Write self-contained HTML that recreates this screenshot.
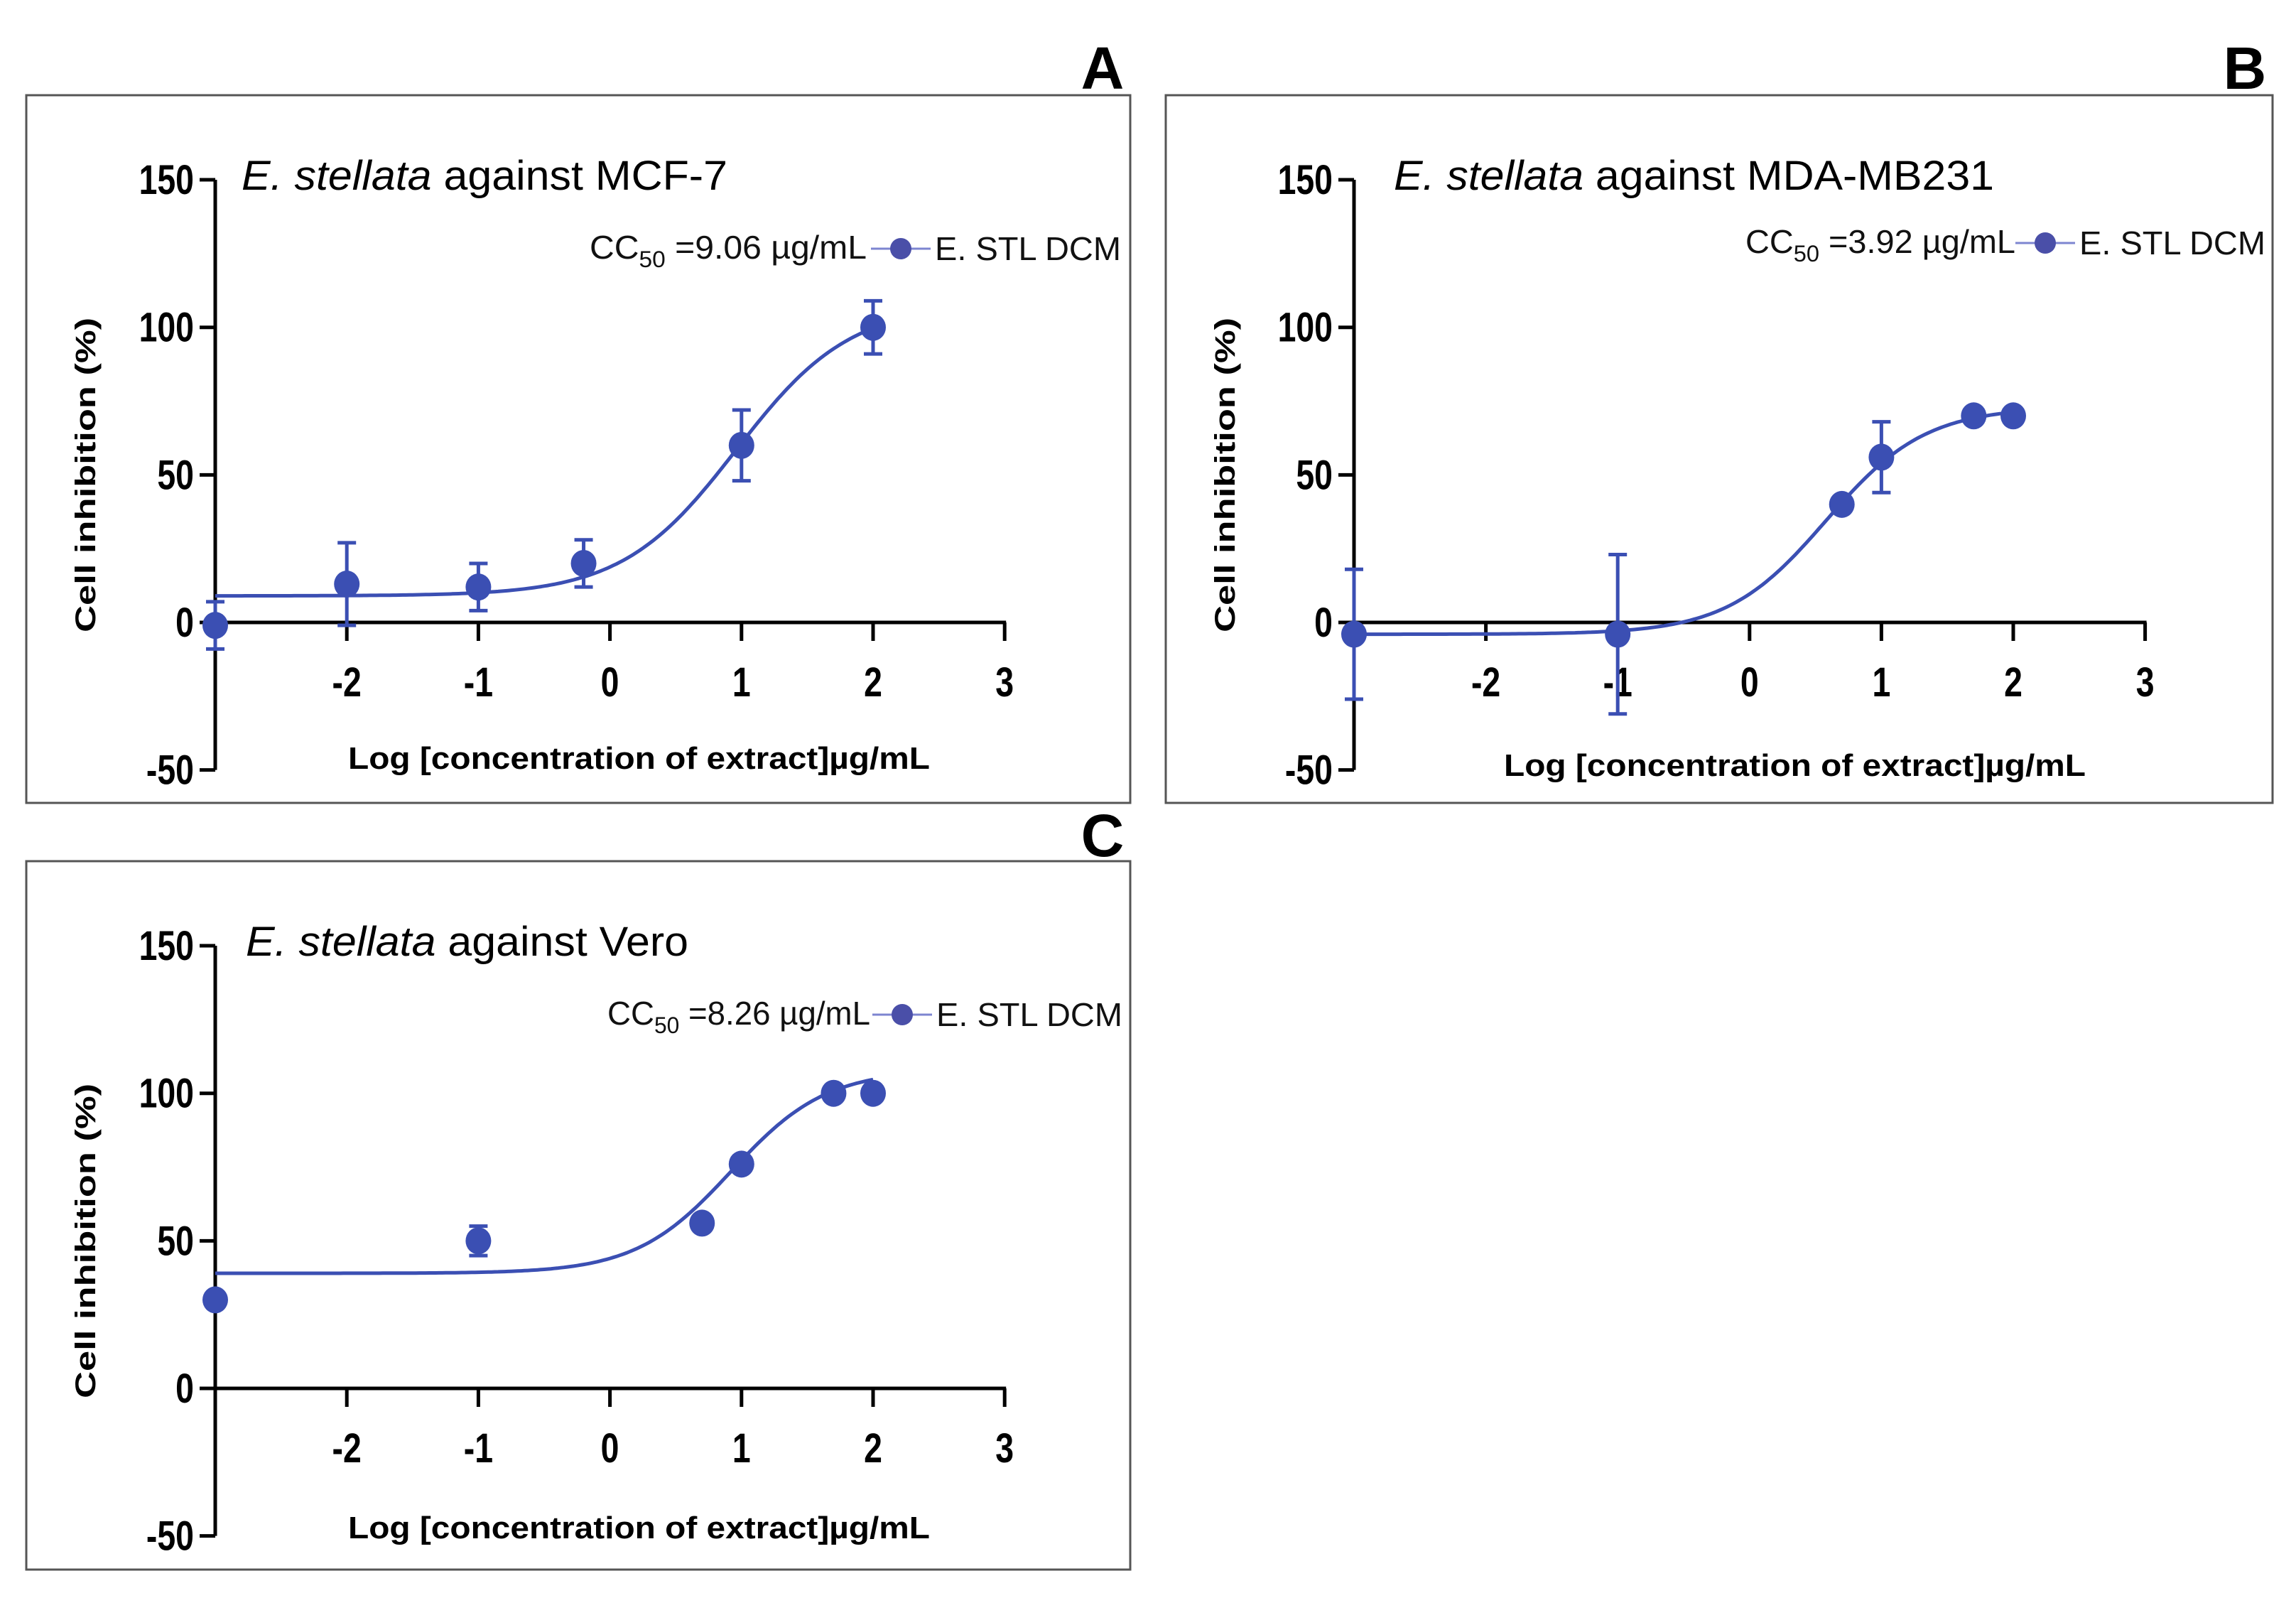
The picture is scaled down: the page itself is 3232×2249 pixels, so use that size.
<!DOCTYPE html>
<html><head><meta charset="utf-8"><style>
html,body{margin:0;padding:0;background:#fff}
svg{display:block}
text{font-family:"Liberation Sans",Arial,sans-serif}
</style></head><body>
<svg id="fig" width="3232" height="2249" viewBox="0 0 3232 2249" xmlns="http://www.w3.org/2000/svg"></svg>
<script>
// Panel A data (MCF-7)
const xA = [-3, -2, -1, -0.2, 1, 2];
const yA = [-1, 13, 12, 20, 60, 100];
const eA = [8, 14, 8, 8, 12, 9];
const fitA = [9, 108, 0.96, 1.0]; // bottom, top, logEC50, hill
// Panel B data (MDA-MB231)
const xB = [-3, -1, 0.7, 1, 1.7, 2];
const yB = [-4, -4, 40, 56, 70, 70];
const eB = [22, 27, 0, 12, 0, 0];
const fitB = [-4, 73, 0.58, 1.15];
// Panel C data (Vero)
const xC = [-3, -1, 0.7, 1, 1.7, 2];
const yC = [30, 50, 56, 76, 100, 100];
const eC = [0, 5, 0, 0, 0, 0];
const fitC = [39, 108, 0.92, 1.2];
const xTicks = [-2, -1, 0, 1, 2, 3];
const yTicks = [150, 100, 50, 0, -50];

const NS = "http://www.w3.org/2000/svg";
const svg = document.getElementById('fig');
const BLUE = "#3b4fb3";
function mk(tag, attrs, parent, txt) {
  const e = document.createElementNS(NS, tag);
  for (const k in attrs) e.setAttribute(k, attrs[k]);
  if (txt !== undefined) e.textContent = txt;
  (parent || svg).appendChild(e);
  return e;
}

function panel(cfg) {
  const g = mk('g', {});
  
  
  const box = mk('rect', {x: cfg.bx, y: cfg.by, width: cfg.bw, height: cfg.bh, fill: 'none', stroke: '#555', 'stroke-width': 3}, g);
  
  
  const lab = mk('text', {x: cfg.lx, y: cfg.ly, 'font-size': 84, 'font-weight': 'bold', 'text-anchor': 'middle'}, g, cfg.letter);
  
  
  const X0 = cfg.ax, Y0 = cfg.y0;
  const ux = cfg.ux, uy = cfg.uy;
  const sx = v => X0 + (v + 3) * ux;
  const sy = v => Y0 - v * uy;
  const ya = mk('line', {x1: X0, y1: sy(150), x2: X0, y2: sy(-50), stroke: '#000', 'stroke-width': 5}, g);
  
  
  yTicks.forEach(t => {
    const tk = mk('line', {x1: X0 - 22, y1: sy(t), x2: X0, y2: sy(t), stroke: '#000', 'stroke-width': 5}, g);
    
    
    const ax = X0 - 30;
    const tl = mk('text', {x: ax, y: sy(t) + 20, 'font-size': 58, 'font-weight': 'bold', 'text-anchor': 'end', transform: `translate(${ax},0) scale(0.8,1) translate(${-ax},0)`}, g, String(t));
    
    
  });
  const xa = mk('line', {x1: X0, y1: Y0, x2: sx(3) + 2, y2: Y0, stroke: '#000', 'stroke-width': 5}, g);
  
  
  xTicks.forEach(t => {
    const tk = mk('line', {x1: sx(t), y1: Y0, x2: sx(t), y2: Y0 + 26, stroke: '#000', 'stroke-width': 5}, g);
    
    
    const px = sx(t);
    const tl = mk('text', {x: px, y: Y0 + 104, 'font-size': 58, 'font-weight': 'bold', 'text-anchor': 'middle', transform: `translate(${px},0) scale(0.8,1) translate(${-px},0)`}, g, String(t));
    
    
  });
  const xt = mk('text', {x: cfg.xtx, y: cfg.xty, 'font-size': 44, 'font-weight': 'bold', textLength: 819, lengthAdjust: 'spacingAndGlyphs'}, g, 'Log [concentration of extract]µg/mL');
  
  
  const ytx = cfg.ytx, yty = sy(cfg.ytc);
  const yt = mk('text', {x: ytx, y: yty, 'font-size': 40, 'font-weight': 'bold', 'text-anchor': 'middle', textLength: 443, lengthAdjust: 'spacingAndGlyphs', transform: `rotate(-90 ${ytx} ${yty})`}, g, 'Cell inhibition (%)');
  
  
  const tt = mk('text', {x: cfg.tx, y: cfg.ty, 'font-size': 58, textLength: cfg.tw, lengthAdjust: 'spacingAndGlyphs'}, g);
  
  
  mk('tspan', {'font-style': 'italic'}, tt, 'E. stellata');
  mk('tspan', {}, tt, ' against ' + cfg.cell);
  const lg = mk('g', {}, g);
  
  
  const lt = mk('text', {x: cfg.lgx, y: cfg.lgy, 'font-size': 46, fill: '#111', textLength: cfg.lgw, lengthAdjust: 'spacingAndGlyphs'}, lg);
  mk('tspan', {}, lt, 'CC');
  mk('tspan', {'font-size': 32, dy: 12}, lt, '50');
  mk('tspan', {dy: -12}, lt, ' =' + cfg.cc + ' µg/mL');
  mk('line', {x1: cfg.lmx - 42, y1: cfg.lgy - 14, x2: cfg.lmx + 42, y2: cfg.lgy - 14, stroke: '#7d85d0', 'stroke-width': 3}, lg);
  mk('circle', {cx: cfg.lmx, cy: cfg.lgy - 14, r: 15, fill: '#4a4fa8'}, lg);
  mk('text', {x: cfg.lmx + 48, y: cfg.lgy + 2, 'font-size': 46, fill: '#111', textLength: 262, lengthAdjust: 'spacingAndGlyphs'}, lg, 'E. STL DCM');
  const [b, tp, ec, h] = cfg.fit;
  let d = '';
  for (let i = 0; i <= 200; i++) {
    const x = -3 + i * 5 / 200;
    const y = b + (tp - b) / (1 + Math.pow(10, (ec - x) * h));
    d += (i ? 'L' : 'M') + sx(x).toFixed(1) + ' ' + sy(y).toFixed(1);
  }
  const cv = mk('path', {d: d, fill: 'none', stroke: BLUE, 'stroke-width': 5}, g);
  
  
  cfg.xs.forEach((xv, i) => {
    const yv = cfg.ys[i], ev = cfg.es[i];
    if (ev > 0) {
      const eb = mk('path', {d: `M${sx(xv)} ${sy(yv+ev)}V${sy(yv-ev)}M${sx(xv)-13} ${sy(yv+ev)}h26M${sx(xv)-13} ${sy(yv-ev)}h26`, stroke: BLUE, 'stroke-width': 5, fill: 'none'}, g);
      
      
    }
    const pt = mk('ellipse', {cx: sx(xv), cy: sy(yv), rx: 18, ry: 19, fill: BLUE}, g);
    
    
  });
}

panel({id: 'a', letter: 'A', bx: 37, by: 134, bw: 1554, bh: 996, lx: 1552, ly: 125,
  ax: 303, y0: 876, ux: 185.2, uy: 4.153,
  xtx: 490, xty: 1082, ytx: 134, ytc: 50,
  tx: 340, ty: 267, tw: 684, cell: 'MCF-7',
  lgx: 830, lgy: 364, lgw: 390, lmx: 1268, cc: '9.06',
  fit: fitA, xs: xA, ys: yA, es: eA});
panel({id: 'b', letter: 'B', bx: 1641, by: 134, bw: 1558, bh: 996, lx: 3160, ly: 125,
  ax: 1906, y0: 876, ux: 185.6, uy: 4.153,
  xtx: 2117, xty: 1092, ytx: 1738, ytc: 50,
  tx: 1962, ty: 267, tw: 845, cell: 'MDA-MB231',
  lgx: 2457, lgy: 356, lgw: 380, lmx: 2879, cc: '3.92',
  fit: fitB, xs: xB, ys: yB, es: eB});
panel({id: 'c', letter: 'C', bx: 37, by: 1212, bw: 1554, bh: 997, lx: 1552, ly: 1205,
  ax: 303, y0: 1954, ux: 185.2, uy: 4.153,
  xtx: 490, xty: 2165, ytx: 134, ytc: 50,
  tx: 346, ty: 1345, tw: 623, cell: 'Vero',
  lgx: 855, lgy: 1442, lgw: 370, lmx: 1270, cc: '8.26',
  fit: fitC, xs: xC, ys: yC, es: eC});
</script>
</body></html>
